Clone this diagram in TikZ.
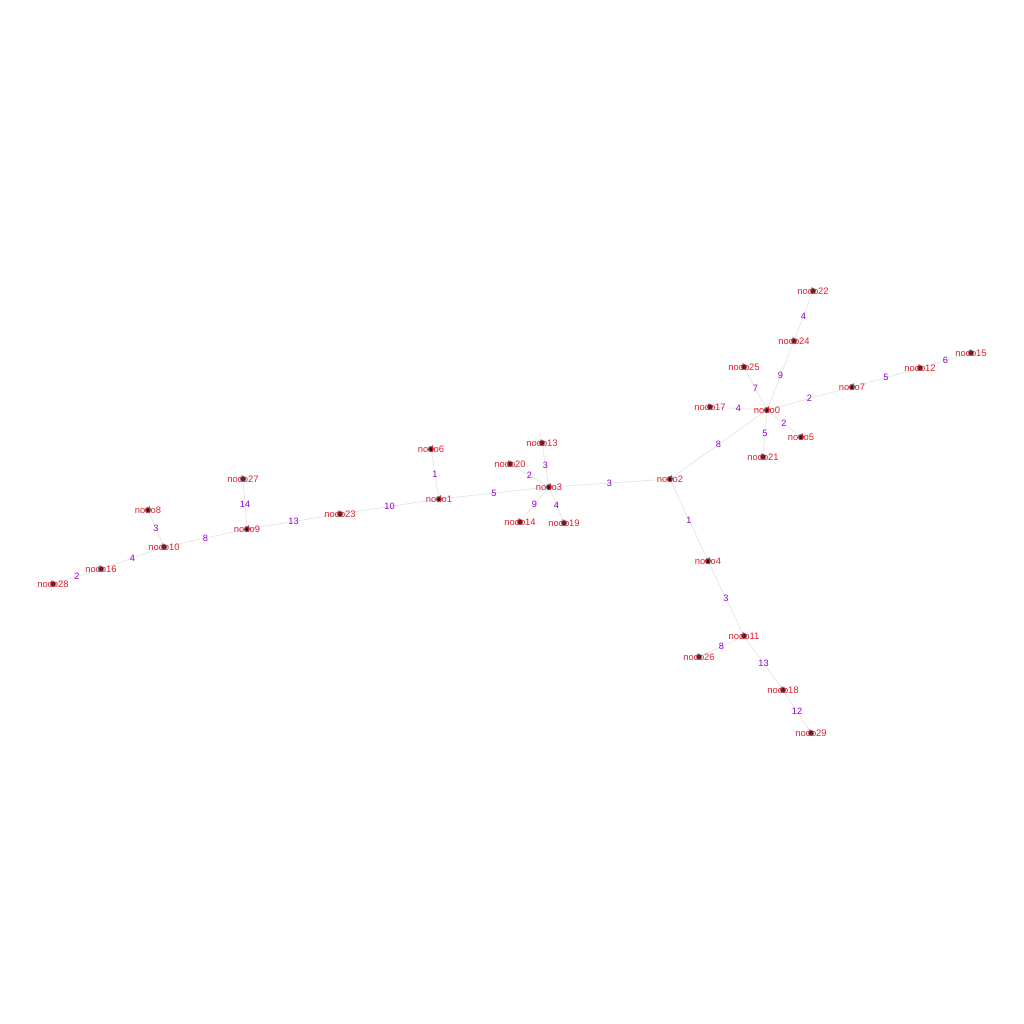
\documentclass[tikz,border=0pt]{standalone}
\usepackage{fontspec}
\setmainfont{Liberation Sans}
\definecolor{nred}{RGB}{222,30,45}
\definecolor{epur}{RGB}{145,0,200}
\definecolor{edg}{RGB}{225,225,225}
\definecolor{dotc}{RGB}{45,15,15}
\begin{document}
\begin{tikzpicture}[x=1pt,y=-1pt,
  vert/.style={circle,inner sep=0pt,minimum size=0pt},
  edge/.style={draw=edg,line width=0.6pt},
  elab/.style={font=\fontsize{9.2}{10}\selectfont,text=epur,inner sep=0pt},
  nlab/.style={font=\fontsize{9.4}{10}\selectfont,text=nred,inner sep=0pt}]
\useasboundingbox (0,0) rectangle (1024,1024);
\foreach \n/\x/\y in {0/767/410,1/439/499,2/670/479,3/549/487,4/708/561,5/801/437,6/431/449,7/852/387,8/148/510,9/247/529,10/164/547,11/744/636,12/920/368,13/542/443,14/520/522,15/971/353,16/101/569,17/710/407,18/783/690,19/564/523,20/510/464,21/763/457,22/813/291,23/340/514,24/794/341,25/744/367,26/699/657,27/243/479,28/53/584,29/811/733}{
  \node[vert] (n\n) at (\x,\y) {};
}
\foreach \a/\b/\w in {22/24/4,24/0/9,25/0/7,17/0/4,0/7/2,7/12/5,12/15/6,0/5/2,0/21/5,0/2/8,2/3/3,2/4/1,3/13/3,3/20/2,3/1/5,3/14/9,3/19/4,1/6/1,1/23/10,23/9/13,9/27/14,9/10/8,10/8/3,10/16/4,16/28/2,4/11/3,11/26/8,11/18/13,18/29/12}{
  \draw[edge] (n\a) -- node[elab] {\w} (n\b);
}
\foreach \n in {0,...,29}{
  \fill[dotc!55!white] (n\n) circle (3.2);
  \fill[dotc] (n\n) circle (2.2);
  \node[nlab] at (n\n) {nodo\n};
}
\end{tikzpicture}
\end{document}
